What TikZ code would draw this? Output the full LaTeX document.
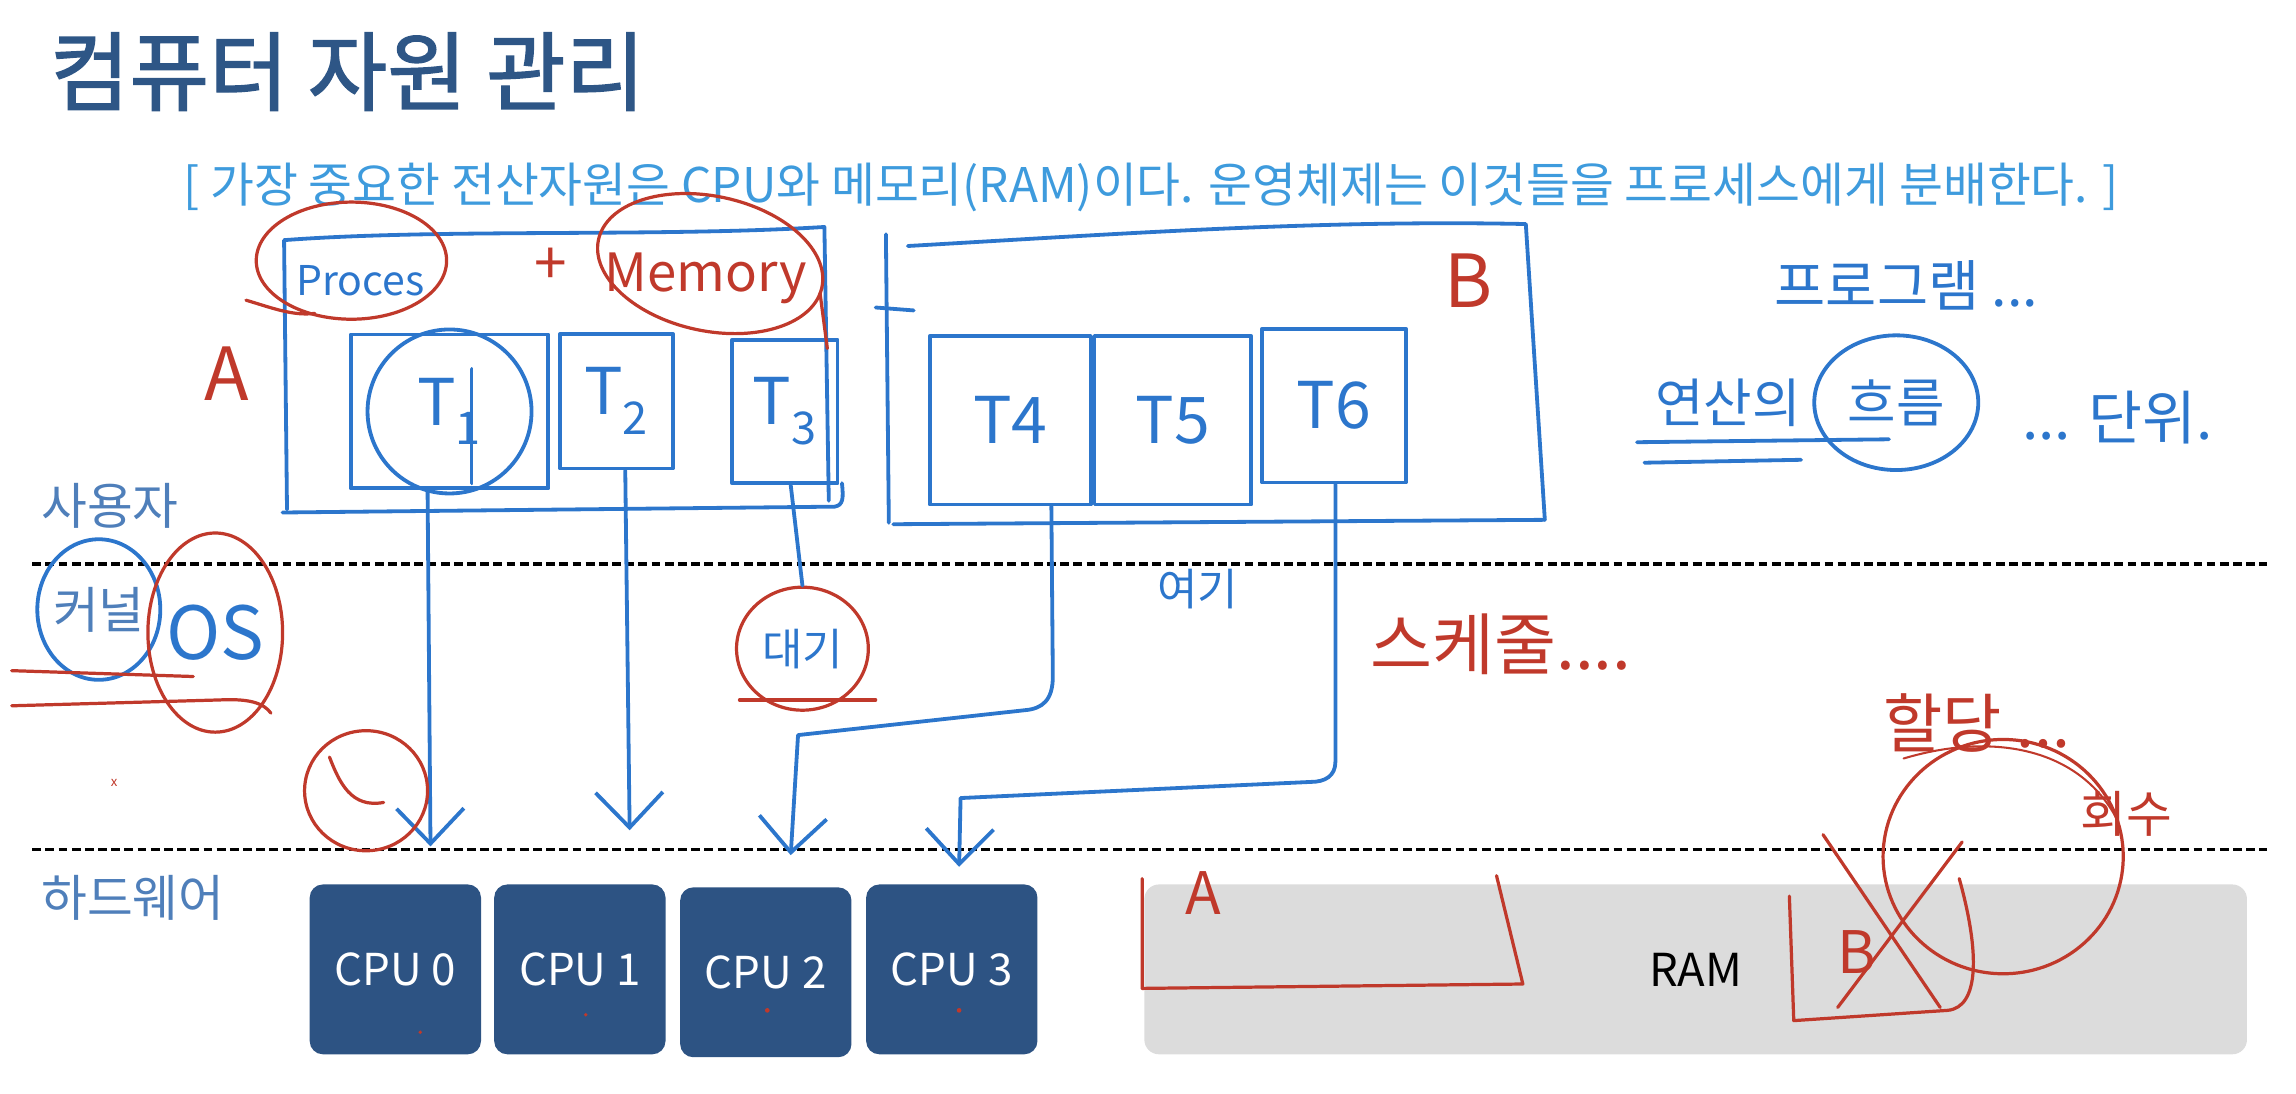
\documentclass[tikz,border=0pt]{standalone}
\usepackage{fontspec}
\setmainfont{Noto Sans CJK KR}
\newfontfamily\titlefont[FakeBold=1.6]{Noto Sans CJK KR}
\usetikzlibrary{arrows.meta,calc,shapes.geometric}
\definecolor{titleblue}{HTML}{2E5686}
\definecolor{subblue}{HTML}{3E9BDD}
\definecolor{layerblue}{HTML}{4F7FBA}
\definecolor{cpublue}{HTML}{2D5383}
\definecolor{ramgray}{HTML}{DCDCDC}
\definecolor{penblue}{HTML}{2C76CC}
\definecolor{penred}{HTML}{C0392B}
\tikzset{
  pb/.style={draw=penblue, line width=2.6pt, line cap=round, line join=round},
  pr/.style={draw=penred, line width=2.2pt, line cap=round, line join=round},
  vtip/.style={-{Straight Barb[length=24pt,width=46pt]}},
  hwb/.style={text=penblue, inner sep=0pt},
  hwr/.style={text=penred, inner sep=0pt},
  tbox/.style={pb, inner sep=0pt, text=penblue, font=\fontsize{44}{44}\selectfont},
  cpubox/.style={fill=cpublue, rounded corners=9pt, minimum width=117pt, minimum height=116pt, text=white, font=\fontsize{30}{30}\selectfont, inner sep=0pt},
  layer/.style={text=layerblue, font=\fontsize{34}{34}\selectfont, inner sep=0pt, anchor=base west},
  dashln/.style={draw=black, line width=2.4pt, dash pattern=on 6pt off 3pt},
}
\begin{document}
\begin{tikzpicture}[x=1pt,y=-1pt]
\useasboundingbox (0,0) rectangle (1568,747);
% title & subtitle
\node[anchor=base west, inner sep=0pt, text=titleblue, font=\fontsize{59}{59}\titlefont] (title) at (34,71) {컴퓨터 자원 관리};
\node[anchor=base west, inner sep=0pt, text=subblue, font=\fontsize{32.6}{32.6}\selectfont] (sub) at (125,138) {[ 가장 중요한 전산자원은 CPU와 메모리(RAM)이다. 운영체제는 이것들을 프로세스에게 분배한다. ]};
% layers
\node[layer] (user) at (28,358) {사용자};
\node[layer] (kernel) at (36,429) {커널};
\node[layer] (hw) at (28,626) {하드웨어};
\coordinate (d1a) at (22,385); \coordinate (d1b) at (1548,385);
\coordinate (d2a) at (22,580); \coordinate (d2b) at (1548,580);
\draw[dashln] (d1a) -- (d1b);
\draw[dashln] (d2a) -- (d2b);
% hardware
\node[cpubox] (cpu0) at (270,662) {CPU 0};
\node[cpubox] (cpu1) at (396,662) {CPU 1};
\node[cpubox] (cpu2) at (523,664) {CPU 2};
\node[cpubox] (cpu3) at (650,662) {CPU 3};
\node[fill=ramgray, rounded corners=10pt, minimum width=753pt, minimum height=116pt, inner sep=0pt, font=\fontsize{31}{31}\selectfont] (ram) at (1158,662) {RAM};
\fill[penred] (287,705) circle (1.3pt) (400,693) circle (1.3pt) (524,690) circle (1.6pt) (655,690) circle (1.6pt);
\node[text=penred, font=\fontsize{9}{9}\selectfont, inner sep=0pt] (xmark) at (78,535) {x};
% process A
\draw[pb] (196,348) -- (194,164) .. controls (300,156) and (450,162) .. (563,155) -- (566,342);
\draw[pb] (193,350) -- (570,346) .. controls (576,345) and (576,340) .. (575,330);
\node[tbox, minimum width=135pt, minimum height=105pt] (t1) at (307,281) {T\textsubscript{1}};
\node[tbox, minimum width=77pt, minimum height=92pt] (t2) at (421,274) {T\textsubscript{2}};
\node[tbox, minimum width=72pt, minimum height=98pt] (t3) at (536,281) {T\textsubscript{3}};
\draw[pb] (t1.center) ellipse [x radius=56pt, y radius=56pt];
\draw[pb] (322,252) -- (322,330);
% process B
\draw[pb] (607,357) -- (605,160);
\draw[pb] (620,168) .. controls (760,160) and (900,150) .. (1042,153) -- (1055,355);
\draw[pb] (610,358) -- (1055,355);
\draw[pb] (598,210) -- (624,212);
\node[tbox, minimum width=110pt, minimum height=115pt] (t4) at (690,287) {T4};
\node[tbox, minimum width=107pt, minimum height=115pt] (t5) at (801,287) {T5};
\node[tbox, minimum width=98pt, minimum height=105pt] (t6) at (911,277) {T6};
% threads to cpus
\coordinate (e0) at (294,578);
\coordinate (e1) at (430,567);
\coordinate (e2) at (540,584);
\coordinate (e3) at (655,592);
\draw[pb, vtip] ($(t1.south)+(-15,0)$) -- (e0);
\draw[pb, vtip] ($(t2.south)+(6,0)$) -- (e1);
\draw[pb, vtip] ($(t4.south)+(28,0)$) -- (719,462) .. controls (719,478) and (712,484) .. (700,485) -- (545,502) -- (e2);
\draw[pb, vtip] ($(t6.south)+(1,0)$) -- (912,520) .. controls (912,530) and (905,534) .. (895,534) -- (656,545) -- (e3);
% waiting
\node[draw=penred, line width=2.2pt, ellipse, minimum width=90pt, minimum height=84pt, inner sep=0pt, text=penblue, font=\fontsize{30}{30}\selectfont] (wait) at (548,443) {대기};
\draw[pb] ($(t3.south)+(4,0)$) -- (wait.north);
\draw[pr] (505,478) -- (598,478);
\node[hwb, font=\fontsize{30}{30}\selectfont] (here) at (818,402) {여기};
% Process + Memory labels
\node[hwb, font=\fontsize{28}{28}\selectfont] (proc) at (246,192) {Proces};
\draw[pr] (240,178) ellipse [x radius=65pt, y radius=40pt];
\draw[pr] (168,205) .. controls (185,210) and (200,216) .. (215,214);
\node[hwr, font=\fontsize{40}{40}\selectfont] (plus) at (376,182) {+};
\node[hwr, font=\fontsize{36}{36}\selectfont] (mem) at (482,190) {Memory};
\draw[pr, rotate around={-12:(485,180)}] (485,180) ellipse [x radius=78pt, y radius=46pt];
\draw[pr] (560,200) -- (565,238);
\node[hwr, font=\fontsize{50}{50}\selectfont] (la) at (155,255) {A};
\node[hwr, font=\fontsize{50}{50}\selectfont] (lb) at (1003,192) {B};
% right notes
\node[hwb, font=\fontsize{38}{38}\selectfont] (prog) at (1302,195) {프로그램 ...};
\node[hwb, font=\fontsize{36}{36}\selectfont] (op) at (1180,275) {연산의};
\draw[pb] (1118,302) -- (1290,300);
\draw[pb] (1123,316) -- (1230,314);
\node[hwb, font=\fontsize{36}{36}\selectfont] (flow) at (1295,275) {흐름};
\draw[pb] (flow.center) ellipse [x radius=56pt, y radius=46pt];
\node[hwb, font=\fontsize{40}{40}\selectfont] (unit) at (1446,285) {... 단위.};
% kernel / OS
\draw[pb] (kernel.center) ellipse [x radius=42pt, y radius=48pt];
\node[hwb, font=\fontsize{50}{50}\selectfont] (os) at (147,432) {OS};
\draw[pr] (os.center) ellipse [x radius=46pt, y radius=68pt];
\draw[pr] (8,458) -- (132,462);
\draw[pr] (8,482) -- (150,478) .. controls (170,477) and (180,480) .. (185,487);
% red check at CPU0 arrow
\draw[pr] (250,540) ellipse [x radius=42pt, y radius=41pt];
\draw[pr] (225,517) .. controls (232,535) and (240,552) .. (262,548);
% scheduling
\node[hwr, font=\fontsize{46}{46}\selectfont] (sched) at (1025,440) {스케줄....};
% RAM allocation
\draw[pr] (780,600) -- (780,675) -- (1040,672) -- (1022,598);
\node[hwr, font=\fontsize{40}{40}\selectfont] (ra) at (822,610) {A};
\draw[pr] (1222,612) -- (1225,697) -- (1330,690) .. controls (1352,688) and (1352,650) .. (1338,600);
\node[hwr, font=\fontsize{40}{40}\selectfont] (rb) at (1268,650) {B};
\draw[pr] (1245,570) -- (1325,688);
\draw[pr] (1340,575) -- (1255,688);
\draw[pr] (1368,585) ellipse [x radius=82pt, y radius=80pt];
\draw[pr, line width=1.4pt] (1300,518) .. controls (1360,500) and (1420,510) .. (1446,560);
\node[hwr, font=\fontsize{44}{44}\selectfont] (alloc) at (1350,494) {할당 ...};
\node[hwr, font=\fontsize{34}{34}\selectfont] (free) at (1452,556) {회수};
\end{tikzpicture}
\end{document}
